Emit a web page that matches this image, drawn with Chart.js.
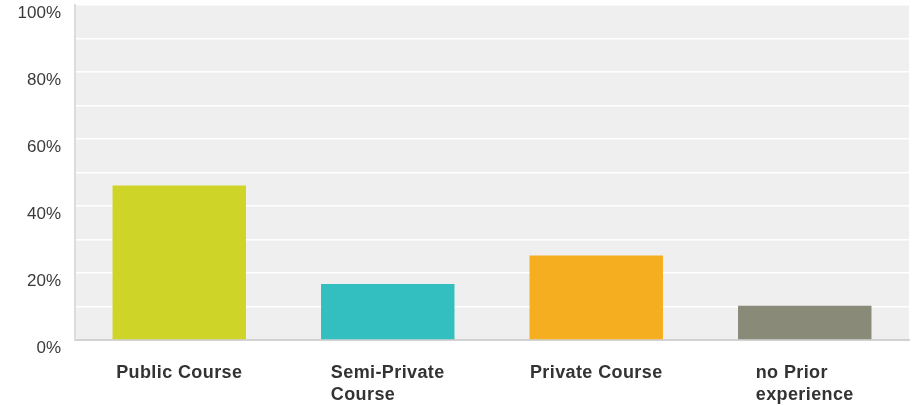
<!DOCTYPE html>
<html>
<head>
<meta charset="utf-8">
<script src="https://cdn.jsdelivr.net/npm/chart.js@4"></script>
<style>
  html, body { margin: 0; padding: 0; background: #fff; }
  #wrap { width: 915px; height: 406px; }
</style>
</head>
<body>
<div id="wrap"><canvas id="chart"></canvas></div>
<script>
const categories = [["Public Course"], ["Semi-Private", "Course"], ["Private Course"], ["no Prior", "experience"]];
const values = [46.1, 16.7, 25.2, 10.2];
const barColors = ["#cfd428", "#33bec0", "#f5ae1f", "#898a78"];
const yTickLabels = [0, 20, 40, 60, 80, 100];

// plot background
const bgPlugin = {
  id: "plotBg",
  beforeDraw(chart) {
    const a = chart.chartArea;
    const ctx = chart.ctx;
    ctx.save();
    ctx.fillStyle = "#efefef";
    ctx.fillRect(a.left, a.top, a.right - a.left, a.bottom - a.top);
    ctx.restore();
  }
};

// category labels: block centered under the bar, lines left aligned
const labelPlugin = {
  id: "catLabels",
  afterDraw(chart) {
    const ctx = chart.ctx;
    const xs = chart.scales.x;
    ctx.save();
    ctx.font = "bold 18px 'Liberation Sans', Arial, sans-serif";
    ctx.letterSpacing = "0.4px";
    ctx.fillStyle = "#333333";
    ctx.textAlign = "left";
    ctx.textBaseline = "alphabetic";
    categories.forEach((lines, i) => {
      const cx = xs.getPixelForTick(i);
      const w = Math.max(...lines.map(l => ctx.measureText(l).width));
      lines.forEach((l, j) => {
        ctx.fillText(l, cx - w / 2, chart.chartArea.bottom + 38 + j * 22);
      });
    });
    ctx.restore();
  }
};

const ctx = document.getElementById("chart").getContext("2d");
const chart = new Chart(ctx, {
  type: "bar",
  data: {
    labels: categories,
    datasets: [
      {
        data: values,
        backgroundColor: barColors,
        categoryPercentage: 1,
        barPercentage: 0.64,
      },
    ],
  },
  options: {
    responsive: true,
    maintainAspectRatio: false,
    animation: false,
    layout: { padding: { top: 5, right: 6, left: 0, bottom: 0 } },
    plugins: {
      legend: { display: false },
      tooltip: { enabled: false },
    },
    scales: {
      x: {
        grid: { display: false },
        border: { display: true, color: "#d2d2d2", width: 2 },
        ticks: { color: "rgba(0,0,0,0)" },
        afterFit(scale) {
          scale.height = 66;
          scale.paddingLeft = 0;
          scale.paddingRight = 0;
        },
      },
      y: {
        min: 0,
        max: 100,
        grid: { color: "#ffffff", lineWidth: 1.6, drawTicks: false },
        border: { display: true, color: "#dcdcdc", width: 2 },
        ticks: {
          stepSize: 10,
          padding: 14,
          labelOffset: 8,
          color: "#3a3a3a",
          font: { family: "'Liberation Sans', Arial, sans-serif", size: 17 },
          callback: (v) => (yTickLabels.includes(v) ? v + "%" : ""),
        },
        afterFit(scale) {
          scale.width = 75;
          scale.paddingTop = 0;
          scale.paddingBottom = 0;
        },
      },
    },
  },
  plugins: [bgPlugin, labelPlugin],
});
</script>
</body>
</html>
